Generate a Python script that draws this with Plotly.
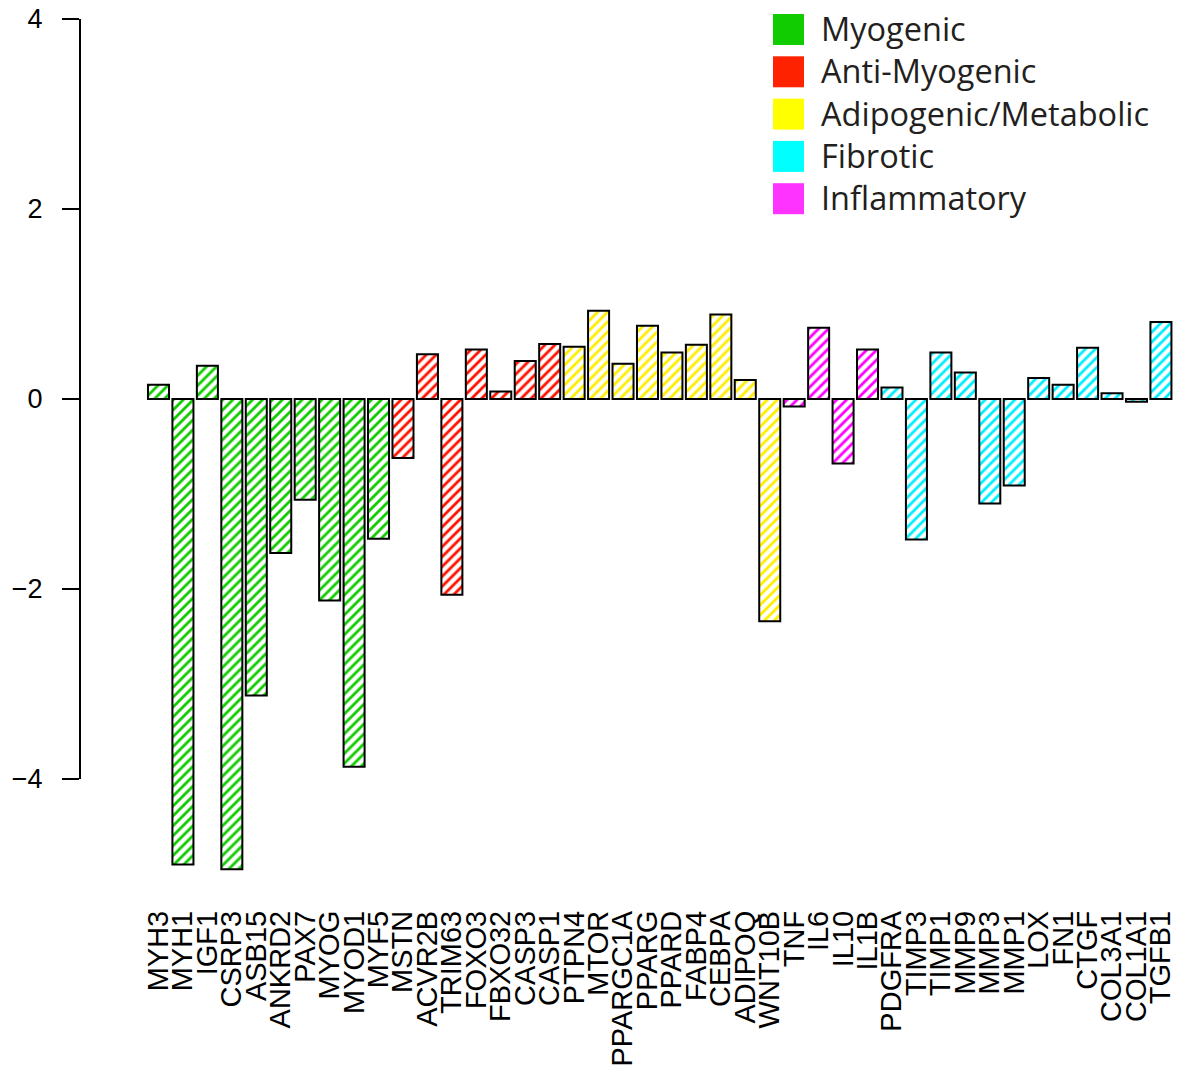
import plotly.graph_objects as go

genes = ["MYH3", "MYH1", "IGF1", "CSRP3", "ASB15", "ANKRD2", "PAX7", "MYOG", "MYOD1", "MYF5",
         "MSTN", "ACVR2B", "TRIM63", "FOXO3", "FBXO32", "CASP3", "CASP1",
         "PTPN4", "MTOR", "PPARGC1A", "PPARG", "PPARD", "FABP4", "CEBPA", "ADIPOQ", "WNT10B",
         "TNF", "IL6", "IL10", "IL1B",
         "PDGFRA", "TIMP3", "TIMP1", "MMP9", "MMP3", "MMP1", "LOX", "FN1", "CTGF", "COL3A1", "COL1A1", "TGFB1"]

values = [0.15, -4.90, 0.35, -4.95, -3.12, -1.62, -1.06, -2.12, -3.87, -1.47,
          -0.62, 0.47, -2.06, 0.52, 0.08, 0.40, 0.58,
          0.55, 0.93, 0.37, 0.77, 0.49, 0.57, 0.89, 0.20, -2.34,
          -0.08, 0.75, -0.68, 0.52,
          0.12, -1.48, 0.49, 0.28, -1.10, -0.91, 0.22, 0.15, 0.54, 0.06, -0.03, 0.81]

groups = (["Myogenic"] * 10 + ["Anti-Myogenic"] * 7 + ["Adipogenic/Metabolic"] * 9
          + ["Inflammatory"] * 4 + ["Fibrotic"] * 12)

legend_names = ["Myogenic", "Anti-Myogenic", "Adipogenic/Metabolic", "Fibrotic", "Inflammatory"]
legend_colors = ["#11CC00", "#FF2200", "#FFFF00", "#00FFFF", "#FF33FF"]
pattern_colors = {"Myogenic": "#11CC00", "Anti-Myogenic": "#FF1100", "Adipogenic/Metabolic": "#FFEE00",
                  "Fibrotic": "#00EEFF", "Inflammatory": "#FF00FF"}

y_ticks = [-4, -2, 0, 2, 4]

fig = go.Figure()
for name in legend_names:
    xs = [g for g, grp in zip(genes, groups) if grp == name]
    ys = [v for v, grp in zip(values, groups) if grp == name]
    fig.add_trace(go.Bar(
        x=xs, y=ys, name=name, showlegend=False, width=0.86,
        marker=dict(color="white",
                    line=dict(color="black", width=2),
                    pattern=dict(shape="/", fgcolor=pattern_colors[name], bgcolor="white",
                                 size=7, solidity=0.4, fillmode="replace")),
    ))

# plot area geometry (pixels, figure coordinates; page body adds an 8px offset)
L, R, T, B = 72, 9, 10, 178
W, H = 1181, 1063
pw = W - L - R
ph = H - T - B

shapes = [dict(type="line", xref="paper", yref="y", x0=0, x1=0, y0=min(y_ticks), y1=max(y_ticks),
               line=dict(color="black", width=2))]
annotations = []
row0, step, sq = 21.5, 42.3, 31
for i, (nm, col) in enumerate(zip(legend_names, legend_colors)):
    cy = row0 + i * step
    shapes.append(dict(type="rect", xref="paper", yref="paper",
                       x0=(765 - L) / pw, x1=(765 + sq - L) / pw,
                       y0=1 - (cy + sq / 2 - T) / ph, y1=1 - (cy - sq / 2 - T) / ph,
                       fillcolor=col, line=dict(width=0)))
    annotations.append(dict(xref="paper", yref="paper", x=(811 - L) / pw, y=1 - (cy - 1 - T) / ph,
                            text=nm, showarrow=False, xanchor="left", yanchor="middle",
                            font=dict(family="Open Sans", size=32.5, color="#231F20")))

fig.update_layout(
    width=W, height=H,
    margin=dict(l=L, r=R, t=T, b=B, pad=0, autoexpand=False),
    plot_bgcolor="white", paper_bgcolor="white",
    barmode="overlay",
    shapes=shapes, annotations=annotations,
    xaxis=dict(type="category", categoryorder="array", categoryarray=genes,
               tickmode="array", tickvals=genes, ticktext=genes, automargin=False,
               range=[-3.21, 41.78], showgrid=False, zeroline=False, showline=False,
               ticks="", tickangle=-90, tickfont=dict(family="Liberation Sans", size=29, color="black"),
               ticklabelstandoff=11),
    yaxis=dict(range=[-5.2, 4.0105], tickvals=y_ticks, showgrid=False, zeroline=False, showline=False,
               automargin=False, ticklabeloverflow="allow",
               ticks="outside", ticklen=17, tickwidth=2, tickcolor="black",
               tickfont=dict(family="Liberation Sans", size=27, color="black"),
               ticklabelstandoff=14),
    font=dict(family="Liberation Sans"),
)

fig.write_html("out.html")
